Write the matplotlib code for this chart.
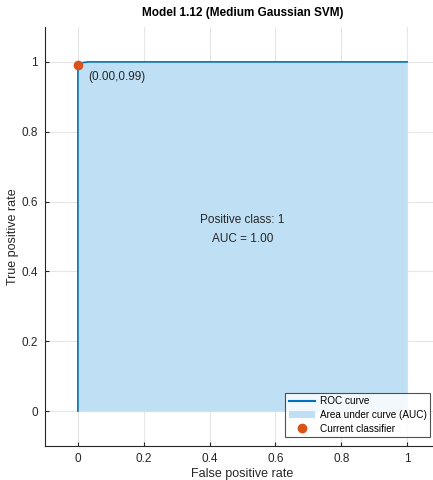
import matplotlib
matplotlib.use("Agg")
import matplotlib.pyplot as plt
from matplotlib.patches import Patch
from matplotlib.lines import Line2D

plt.rcParams['font.family'] = ['Liberation Sans', 'DejaVu Sans']

fpr = [0.0, 0.0, 0.0, 0.002, 0.006, 0.015, 0.03, 1.0]
tpr = [0.0, 0.90, 0.985, 0.99, 0.995, 0.998, 1.0, 1.0]
cur_fpr = 0.00
cur_tpr = 0.99
auc = 1.00
title = "Model 1.12 (Medium Gaussian SVM)"
xticks = [0, 0.2, 0.4, 0.6, 0.8, 1]
yticks = [0, 0.2, 0.4, 0.6, 0.8, 1]
xticklabels = ["0", "0.2", "0.4", "0.6", "0.8", "1"]
yticklabels = ["0", "0.2", "0.4", "0.6", "0.8", "1"]

fig = plt.figure(figsize=(4.33, 4.8), dpi=100)
ax = fig.add_axes([45/433, 1-446/480, 395/433, 419/480])

line_c = '#0072BD'
fill_c = '#BFE0F4'
dot_c = '#D95319'

ax.fill_between(fpr, tpr, 0, color=fill_c, linewidth=0, zorder=1)
ax.plot(fpr, tpr, color=line_c, linewidth=1.2, zorder=3)
ax.plot([cur_fpr], [cur_tpr], 'o', color=dot_c, markersize=6, zorder=4)
ax.text(cur_fpr + 0.03, cur_tpr - 0.015, f"({cur_fpr:.2f},{cur_tpr:.2f})",
        fontsize=8.5, va='top', ha='left', color='#262626')
ax.text(0.5, 0.52, f"Positive class: 1\nAUC = {auc:.2f}", fontsize=8.5,
        ha='center', va='center', linespacing=1.75, color='#262626')

ax.set_xlim(-0.1, 1.1)
ax.set_ylim(-0.1, 1.1)
ax.set_xticks(xticks)
ax.set_xticklabels(xticklabels)
ax.set_yticks(yticks)
ax.set_yticklabels(yticklabels)
ax.grid(True, color='#E6E6E6', linewidth=0.8, zorder=0)
ax.set_axisbelow(True)
for s in ['top', 'right']:
    ax.spines[s].set_visible(False)
for s in ['left', 'bottom']:
    ax.spines[s].set_color('#262626')
    ax.spines[s].set_linewidth(0.8)
ax.tick_params(direction='in', length=3, labelsize=8.5, colors='#262626', pad=5)

ax.set_xlabel("False positive rate", fontsize=9, color='#262626', labelpad=2)
ax.set_ylabel("True positive rate", fontsize=9, color='#262626', labelpad=2)
ax.set_title(title, fontsize=8.5, fontweight='bold', color='#000000', pad=8)

handles = [Line2D([0], [0], color=line_c, linewidth=1.5),
           Patch(facecolor=fill_c, edgecolor='none'),
           Line2D([0], [0], marker='o', color=dot_c, linestyle='none', markersize=6)]
labels = ["ROC curve", "Area under curve (AUC)", "Current classifier"]
leg = fig.legend(handles, labels, loc='lower right', bbox_to_anchor=(430/433, 1-437/480),
                 fontsize=7.2, frameon=True, fancybox=False, edgecolor='#262626',
                 borderpad=0.35, labelspacing=0.35, handlelength=2.6, handletextpad=0.5,
                 borderaxespad=0)
leg.get_frame().set_linewidth(0.8)

fig.savefig("out.png", dpi=100)
